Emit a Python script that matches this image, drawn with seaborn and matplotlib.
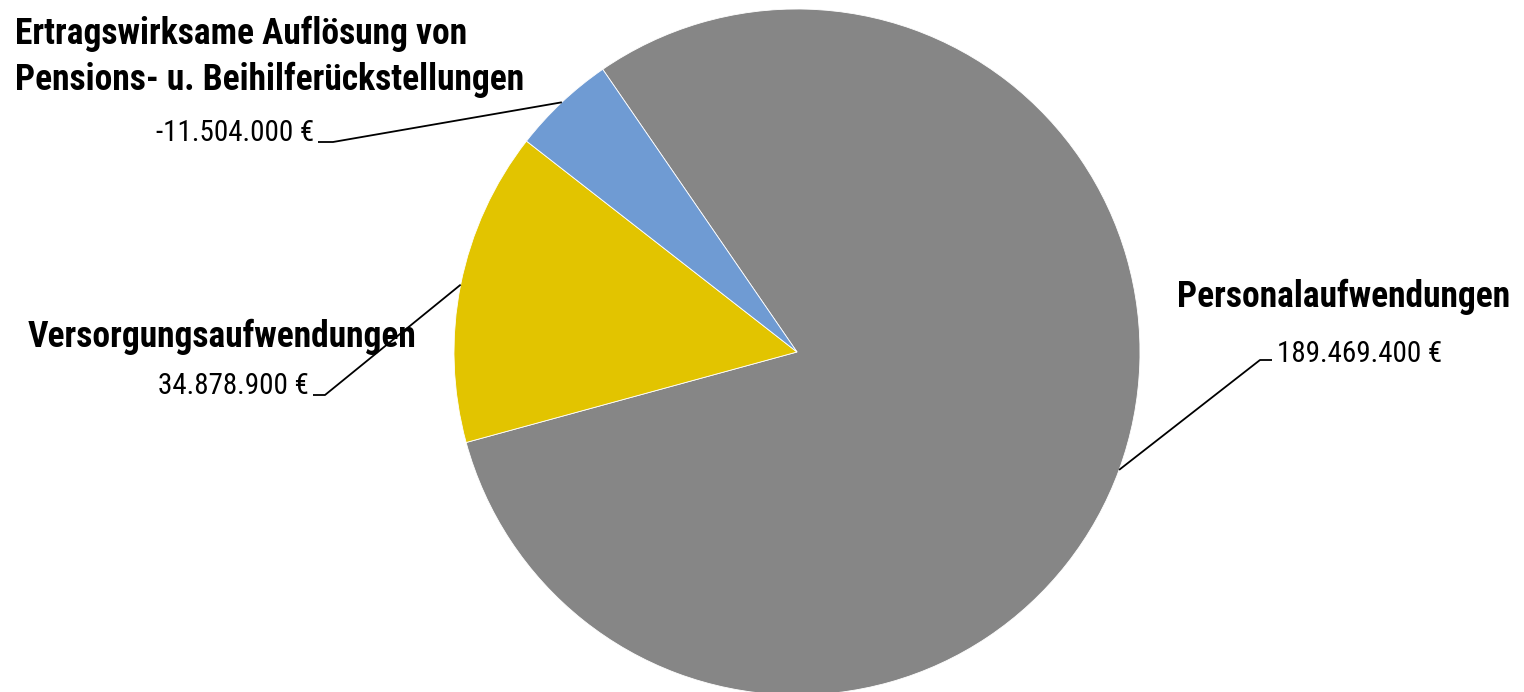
import numpy as np
import matplotlib
matplotlib.use("Agg")
import matplotlib.pyplot as plt
from matplotlib import font_manager as fm
import seaborn as sns

categories = ["Personalaufwendungen", "Versorgungsaufwendungen",
              "Ertragswirksame Auflösung von\nPensions- u. Beihilferückstellungen"]
values = [189469400, 34878900, -11504000]
value_labels = ["189.469.400 €", "34.878.900 €", "-11.504.000 €"]
colors = ["#868686", "#E2C400", "#6F9BD3"]

sns.set_theme(style="white")

# prefer a narrow/condensed face if one is installed
names = {f.name for f in fm.fontManager.ttflist}
stretch = "normal"
family = "Liberation Sans"
for cand in ["Liberation Sans Narrow", "Arial Narrow", "Roboto Condensed",
             "Open Sans Condensed", "DejaVu Sans Condensed"]:
    if cand in names:
        family = cand
        break
else:
    for f in fm.fontManager.ttflist:
        if f.name == "DejaVu Sans" and f.stretch in ("condensed", "semi-condensed"):
            family, stretch = "DejaVu Sans", "condensed"
            break
FONT = [family, "Liberation Sans", "DejaVu Sans"]
plt.rcParams["font.family"] = FONT
plt.rcParams["text.color"] = "black"

W, H = 1524, 692
fig = plt.figure(figsize=(W / 100, H / 100), dpi=100)
ax = fig.add_axes([0, 0, 1, 1])

cx, cy, R = 797, H - 352, 343
sizes = [abs(v) for v in values]
wedges, _ = ax.pie(sizes, colors=colors, startangle=124.5, counterclock=False,
                   center=(cx, cy), radius=R, frame=True,
                   wedgeprops=dict(edgecolor="white", linewidth=0.6))
ax.set_xlim(0, W)
ax.set_ylim(0, H)
ax.set_aspect("equal")
ax.axis("off")

# fit font sizes to the reference text widths
renderer = fig.canvas.get_renderer()
def width_px(s, fs, bold):
    t = ax.text(0, 0, s, fontsize=fs, fontweight="bold" if bold else "normal",
                family=FONT, fontstretch=stretch)
    w = t.get_window_extent(renderer).width
    t.remove()
    return w
FS_T = min(30, 24 * 335 / width_px("Personalaufwendungen", 24, True))
FS_V = min(30, 24 * 166 / width_px("189.469.400 €", 24, False))

# label layout (pixel coords from top): elbow, end of tick, title pos, value pos
layout = [
    dict(elbow=(1260, 360), end=(1272, 360),
         title=(1344, 307, "center"), value=(1277, 362, "left")),
    dict(elbow=(325, 395), end=(313, 395),
         title=(222, 347, "center"), value=(309, 394, "right")),
    dict(elbow=(333, 142), end=(318, 142),
         title=(15, 90, "left"), value=(314, 141, "right")),
]

for w, lab, vl, lay in zip(wedges, categories, value_labels, layout):
    mid = np.deg2rad((w.theta1 + w.theta2) / 2)
    px, py = cx + R * np.cos(mid), cy + R * np.sin(mid)
    ex, ey = lay["elbow"]
    tx, ty = lay["end"]
    ax.plot([px, ex, tx], [py, H - ey, H - ty], color="black", lw=1.3,
            solid_capstyle="butt")
    x, y, ha = lay["title"]
    ax.text(x, H - y, lab, ha=ha, va="baseline", fontsize=FS_T, fontweight="bold",
            family=FONT, fontstretch=stretch, color="black",
            linespacing=1.33, multialignment=ha)
    x, y, ha = lay["value"]
    ax.text(x, H - y, vl, ha=ha, va="baseline", fontsize=FS_V, family=FONT,
            fontstretch=stretch, color="black")

fig.savefig("out.png", dpi=100)
